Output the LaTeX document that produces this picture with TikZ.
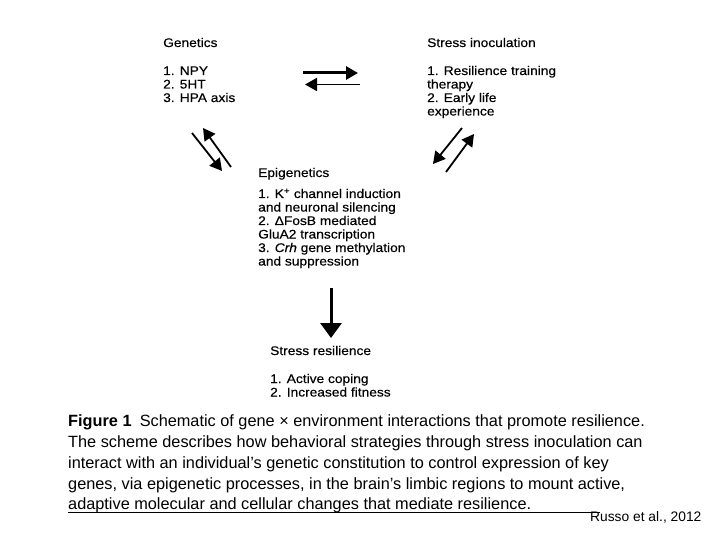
\documentclass[tikz,border=0pt]{standalone}
\usepackage{fontspec}
\setmainfont{Liberation Sans}
\newfontfamily\dfont[FakeStretch=1.1,FakeBold=0.4]{Liberation Sans}
\newfontfamily\cfont{Liberation Sans}
\usetikzlibrary{arrows.meta}
\begin{document}
\begin{tikzpicture}[x=1pt,y=-1pt,
  dtxt/.style={anchor=base west,inner sep=0pt,font={\dfont\fontsize{12.5}{13.5}\selectfont}},
  ctxt/.style={anchor=base west,inner sep=0pt,font={\cfont\fontsize{16.3}{20}\selectfont}},
  ref/.style={anchor=base west,inner sep=0pt,font={\cfont\fontsize{13.8}{15}\selectfont}},
  boldarrow/.style={line width=3pt,-{Triangle[length=12pt,width=13pt]}},
  thinarrow/.style={line width=1.8pt,-{Triangle[length=12pt,width=13pt]}},
  downarrow/.style={line width=3pt,-{Triangle[length=15pt,width=21pt]}}]
\useasboundingbox (0,0) rectangle (720,540);
\fill[white] (0,0) rectangle (720,540);
% Genetics
\node[dtxt] (g0) at (163,47) {Genetics};
\node[dtxt] (g1) at (163,75) {1. NPY};
\node[dtxt] (g2) at (163,88.5) {2. 5HT};
\node[dtxt] (g3) at (163,102) {3. HPA axis};
% Stress inoculation
\node[dtxt] (s0) at (427,47) {Stress inoculation};
\node[dtxt] (s1) at (427,75) {1. Resilience training};
\node[dtxt] (s2) at (427,88.5) {therapy};
\node[dtxt] (s3) at (427,102) {2. Early life};
\node[dtxt] (s4) at (427,115.5) {experience};
% Epigenetics
\node[dtxt] (e0) at (258,177) {Epigenetics};
\node[dtxt] (e1) at (258,198) {1. K\textsuperscript{+} channel induction};
\node[dtxt] (e2) at (258,211.5) {and neuronal silencing};
\node[dtxt] (e3) at (258,225) {2. ΔFosB mediated};
\node[dtxt] (e4) at (258,238.5) {GluA2 transcription};
\node[dtxt] (e5) at (258,252) {3. \textit{Crh} gene methylation};
\node[dtxt] (e6) at (258,265.5) {and suppression};
% Stress resilience
\node[dtxt] (r0) at (270,355) {Stress resilience};
\node[dtxt] (r1) at (270,383) {1. Active coping};
\node[dtxt] (r2) at (270,396.5) {2. Increased fitness};
% arrow end points
\coordinate (ha1) at (303,73);   \coordinate (ha2) at (358,73);
\coordinate (hb1) at (360,84.5); \coordinate (hb2) at (305,84.5);
\coordinate (la1) at (192,133);  \coordinate (la2) at (222,171);
\coordinate (lb1) at (231,167);  \coordinate (lb2) at (203,128);
\coordinate (ra1) at (462,128);  \coordinate (ra2) at (433,164);
\coordinate (rb1) at (446,172);  \coordinate (rb2) at (474,134);
\coordinate (v1) at (331,288);   \coordinate (v2) at (331,338);
\draw[boldarrow] (ha1) -- (ha2);
\draw[thinarrow] (hb1) -- (hb2);
\draw[thinarrow] (la1) -- (la2);
\draw[thinarrow] (lb1) -- (lb2);
\draw[thinarrow] (ra1) -- (ra2);
\draw[thinarrow] (rb1) -- (rb2);
\draw[downarrow] (v1) -- (v2);
% caption
\node[ctxt] (c1) at (68,426.5) {\textbf{Figure 1}\enspace Schematic of gene × environment interactions that promote resilience.};
\node[ctxt] (c2) at (68,447.5) {The scheme describes how behavioral strategies through stress inoculation can};
\node[ctxt] (c3) at (68,468.5) {interact with an individual’s genetic constitution to control expression of key};
\node[ctxt] (c4) at (68,489.5) {genes, via epigenetic processes, in the brain’s limbic regions to mount active,};
\node[ctxt] (c5) at (68,509) {adaptive molecular and cellular changes that mediate resilience.};
% rule and reference
\coordinate (rl1) at (68,512.5); \coordinate (rl2) at (600,512.5);
\draw[line width=0.8pt] (rl1) -- (rl2);
\node[ref] (src) at (590,521) {Russo et al., 2012};
\end{tikzpicture}
\end{document}
